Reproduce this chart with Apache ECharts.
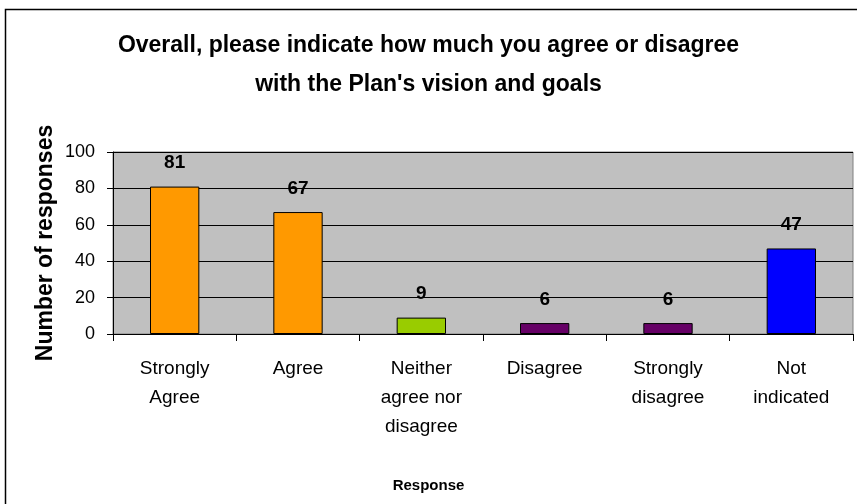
<!DOCTYPE html>
<html>
<head>
<meta charset="utf-8">
<script src="https://cdn.jsdelivr.net/npm/echarts@6/dist/echarts.min.js"></script>
<style>
  html, body { margin: 0; padding: 0; background: #fff; }
  #chart { width: 857px; height: 504px; }
</style>
</head>
<body>
<div id="chart"></div>
<script>
// categories and values
var categories = ['Strongly\nAgree', 'Agree', 'Neither\nagree nor\ndisagree', 'Disagree', 'Strongly\ndisagree', 'Not\nindicated'];
var responses = [81, 67, 9, 6, 6, 47];
var yTicks = [0, 20, 40, 60, 80, 100];
var barColors = ['#FF9900', '#FF9900', '#99CC00', '#660066', '#660066', '#0000FF'];

var myChart = echarts.init(document.getElementById('chart'));
var font = 'Liberation Sans, Arial, sans-serif';

var option = {
  backgroundColor: '#ffffff',
  animation: false,
  title: [
    {
      text: "Overall, please indicate how much you agree or disagree\nwith the Plan's vision and goals",
      left: 'center',
      top: 21,
      textStyle: {
        fontFamily: font,
        fontSize: 23,
        fontWeight: 'bold',
        color: '#000',
        lineHeight: 39
      }
    },
    {
      text: 'Response',
      left: 'center',
      top: 473,
      textStyle: { fontFamily: font, fontSize: 15, fontWeight: 'bold', color: '#000' }
    }
  ],
  graphic: [{
    type: 'rect',
    shape: { x: 5.5, y: 9.5, width: 900, height: 600 },
    style: { fill: null, stroke: '#000', lineWidth: 1.5 },
    silent: true
  }],
  grid: {
    left: 113,
    right: 4,
    top: 152,
    bottom: 170,
    show: true,
    backgroundColor: '#C0C0C0',
    borderColor: '#808080',
    borderWidth: 1
  },
  xAxis: {
    type: 'category',
    data: categories,
    axisLine: { lineStyle: { color: '#000', width: 1 } },
    axisTick: { show: true, length: 7, lineStyle: { color: '#000' } },
    axisLabel: {
      interval: 0,
      margin: 20,
      fontFamily: font,
      fontSize: 19,
      color: '#000',
      lineHeight: 29
    }
  },
  yAxis: {
    type: 'value',
    min: yTicks[0],
    max: yTicks[yTicks.length - 1],
    interval: 20,
    name: 'Number of responses',
    nameLocation: 'middle',
    nameGap: 56,
    nameMoveOverlap: false,
    nameTextStyle: { fontFamily: font, fontSize: 23, fontWeight: 'bold', color: '#000' },
    axisLine: { show: true, lineStyle: { color: '#000', width: 1 } },
    axisTick: { show: true, length: 6, lineStyle: { color: '#000' } },
    axisLabel: { margin: 18, fontFamily: font, fontSize: 18, color: '#000' },
    splitLine: { show: true, lineStyle: { color: '#000', width: 1 } }
  },
  series: [{
    type: 'bar',
    barWidth: '40%',
    data: responses.map(function (v, i) {
      return { value: v, itemStyle: { color: barColors[i] } };
    }),
    itemStyle: { borderColor: '#000', borderWidth: 1 },
    label: {
      show: true,
      position: 'top',
      distance: 14,
      fontFamily: font,
      fontSize: 19,
      fontWeight: 'bold',
      color: '#000'
    }
  }]
};
myChart.setOption(option);
</script>
</body>
</html>
